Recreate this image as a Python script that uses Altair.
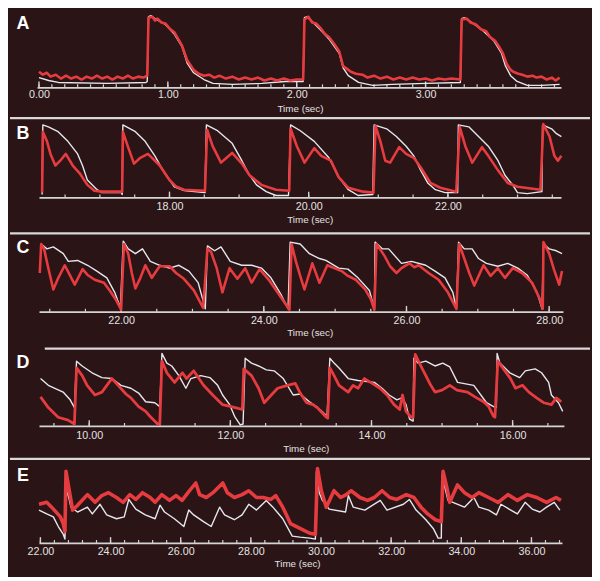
import altair as alt
import pandas as pd

S = 584 / 600  # reference pixel -> chart pixel
BG = "#2b1416"
WHITE = "#e6e7ee"
RED = "#e63b3f"
AXIS = "#d4d4d4"
TXT = "#e2e2e2"
FONT = "Liberation Sans"

# ---------------- data: (time in s, signal in a.u.) ----------------
A_WHITE = [(0.00,10),(0.075,7),(0.15,5),(0.53,4),(0.83,5),(0.84,6),(0.85,73),(0.87,74),(0.90,71),(0.98,65),(1.05,55),(1.11,42),(1.15,25),(1.20,15),(1.28,8),(1.35,4),(1.50,3),(1.73,4),(1.91,6),(2.05,6),(2.06,72),(2.08,73),(2.12,68),(2.18,60),(2.25,50),(2.33,35),(2.36,20),(2.40,12),(2.48,5),(2.59,2),(2.74,3),(3.00,4),(3.27,5),(3.28,71),(3.30,72),(3.38,65),(3.45,58),(3.53,48),(3.59,35),(3.62,22),(3.66,12),(3.71,6),(3.79,2),(3.90,2),(4.04,3)]
A_RED = [(0.00,16),(0.03,13),(0.06,15),(0.09,11),(0.13,13),(0.17,9),(0.21,12),(0.25,9),(0.29,11),(0.33,8),(0.37,11),(0.41,9),(0.45,12),(0.49,9),(0.53,11),(0.57,8),(0.61,11),(0.65,9),(0.69,12),(0.73,9),(0.77,11),(0.81,10),(0.84,12),(0.85,72),(0.88,73),(0.90,69),(0.92,71),(0.95,67),(0.98,66),(1.02,60),(1.05,57),(1.08,50),(1.11,43),(1.15,28),(1.18,22),(1.20,18),(1.24,14),(1.28,12),(1.32,13),(1.36,10),(1.40,12),(1.45,9),(1.50,11),(1.55,8),(1.60,10),(1.65,8),(1.70,10),(1.75,7),(1.80,9),(1.85,7),(1.90,9),(1.95,7),(2.00,8),(2.05,8),(2.06,70),(2.09,73),(2.12,67),(2.15,66),(2.18,62),(2.22,55),(2.25,52),(2.29,45),(2.33,37),(2.36,22),(2.39,19),(2.42,16),(2.46,14),(2.51,13),(2.55,10),(2.60,12),(2.65,9),(2.70,11),(2.75,8),(2.80,10),(2.85,8),(2.90,10),(2.95,8),(3.00,9),(3.05,7),(3.10,9),(3.15,8),(3.20,9),(3.27,8),(3.28,70),(3.32,71),(3.35,67),(3.39,65),(3.43,60),(3.47,58),(3.50,52),(3.54,48),(3.57,42),(3.60,35),(3.63,24),(3.66,18),(3.68,16),(3.72,14),(3.75,13),(3.79,11),(3.83,12),(3.86,10),(3.90,11),(3.94,8),(3.98,10),(4.01,7),(4.04,10)]

B_WHITE = [(16.17,3),(16.18,75),(16.26,73),(16.40,68),(16.54,58),(16.68,45),(16.75,33),(16.82,18),(16.96,8),(17.03,5),(17.31,5),(17.32,3),(17.33,75),(17.51,68),(17.65,58),(17.79,43),(17.93,25),(18.07,11),(18.21,7),(18.51,5),(18.53,75),(18.69,69),(18.90,56),(19.04,38),(19.15,23),(19.25,13),(19.39,6),(19.53,2),(19.71,2),(19.74,75),(19.88,69),(20.08,58),(20.29,41),(20.43,21),(20.57,8),(20.71,2),(20.92,3),(20.94,75),(21.12,71),(21.26,63),(21.40,53),(21.51,43),(21.61,28),(21.71,15),(21.82,8),(21.96,5),(22.14,5),(22.15,75),(22.30,73),(22.44,63),(22.58,53),(22.72,38),(22.82,23),(22.93,13),(23.00,5),(23.14,4),(23.35,6),(23.36,75),(23.49,71),(23.56,66),(23.63,63)]
B_RED = [(16.17,5),(16.18,68),(16.24,58),(16.29,45),(16.36,33),(16.43,38),(16.51,45),(16.61,33),(16.71,25),(16.82,13),(16.92,7),(17.03,6),(17.32,6),(17.33,68),(17.40,53),(17.49,35),(17.58,41),(17.69,45),(17.86,33),(18.00,18),(18.10,11),(18.21,8),(18.51,7),(18.54,70),(18.62,53),(18.74,36),(18.82,41),(18.90,46),(19.04,35),(19.15,23),(19.32,13),(19.53,8),(19.72,7),(19.74,71),(19.83,53),(19.94,36),(20.08,51),(20.18,43),(20.32,38),(20.43,21),(20.57,10),(20.78,6),(20.93,5),(20.96,74),(21.03,58),(21.10,38),(21.17,36),(21.30,52),(21.40,45),(21.51,41),(21.61,31),(21.75,15),(21.89,10),(22.12,6),(22.17,73),(22.25,53),(22.35,36),(22.49,52),(22.58,43),(22.72,28),(22.86,15),(23.00,11),(23.33,8),(23.37,76),(23.46,63),(23.53,43),(23.58,38),(23.63,43)]

C_WHITE = [(20.88,70),(20.96,65),(21.05,67),(21.19,60),(21.26,52),(21.39,53),(21.53,48),(21.66,42),(21.80,35),(21.91,20),(21.99,4),(22.03,73),(22.10,65),(22.20,60),(22.30,65),(22.41,52),(22.54,48),(22.68,45),(22.81,48),(22.95,42),(23.08,30),(23.18,3),(23.21,68),(23.31,63),(23.40,67),(23.53,52),(23.69,48),(23.83,48),(23.97,45),(24.10,35),(24.24,18),(24.34,3),(24.37,72),(24.51,70),(24.64,60),(24.78,55),(24.87,53),(25.05,45),(25.18,44),(25.32,35),(25.48,22),(25.55,3),(25.56,72),(25.66,65),(25.75,65),(25.93,50),(26.07,52),(26.27,48),(26.40,42),(26.54,35),(26.65,20),(26.70,3),(26.73,72),(26.81,65),(26.92,65),(27.01,55),(27.12,50),(27.28,47),(27.42,50),(27.56,45),(27.69,38),(27.83,20),(27.90,3),(27.92,70),(28.00,65),(28.10,63),(28.18,60)]
C_RED = [(20.86,40),(20.88,70),(20.92,65),(20.98,45),(21.05,23),(21.12,35),(21.21,48),(21.28,38),(21.35,28),(21.46,44),(21.53,38),(21.63,33),(21.76,30),(21.84,22),(21.93,12),(22.00,2),(22.04,70),(22.10,60),(22.15,40),(22.20,24),(22.27,35),(22.34,48),(22.43,35),(22.54,47),(22.68,47),(22.77,40),(22.88,34),(23.02,22),(23.15,4),(23.21,65),(23.26,62),(23.34,45),(23.42,20),(23.52,45),(23.63,34),(23.74,45),(23.83,30),(23.94,44),(24.07,33),(24.24,15),(24.36,2),(24.39,70),(24.45,52),(24.51,37),(24.57,23),(24.68,50),(24.78,30),(24.89,48),(25.09,42),(25.18,37),(25.29,33),(25.42,23),(25.50,13),(25.55,2),(25.58,70),(25.69,58),(25.77,47),(25.86,40),(25.93,45),(26.04,50),(26.11,46),(26.17,48),(26.31,40),(26.45,33),(26.58,20),(26.70,3),(26.74,70),(26.81,55),(26.88,40),(26.95,27),(27.03,40),(27.08,48),(27.18,37),(27.28,45),(27.38,35),(27.49,45),(27.62,40),(27.76,30),(27.87,13),(27.91,3),(27.92,72),(28.00,60),(28.07,43),(28.14,28),(28.18,42)]

D_WHITE = [(9.31,49),(9.42,42),(9.63,35),(9.73,27),(9.79,19),(9.82,67),(9.90,62),(10.04,55),(10.18,50),(10.32,49),(10.45,42),(10.59,39),(10.70,34),(10.80,25),(10.93,24),(11.00,20),(11.03,75),(11.10,65),(11.17,62),(11.27,52),(11.37,39),(11.44,49),(11.58,52),(11.71,50),(11.82,42),(11.89,32),(11.99,22),(12.06,10),(12.14,1),(12.18,2),(12.21,70),(12.30,65),(12.40,62),(12.51,58),(12.62,57),(12.75,49),(12.89,32),(12.99,33),(13.12,25),(13.22,20),(13.30,15),(13.37,10),(13.41,70),(13.47,65),(13.54,60),(13.67,49),(13.81,47),(14.04,45),(14.15,39),(14.25,32),(14.36,27),(14.43,29),(14.49,22),(14.54,7),(14.59,5),(14.60,70),(14.66,65),(14.77,67),(14.90,62),(15.01,65),(15.11,61),(15.22,45),(15.45,42),(15.63,24),(15.73,20),(15.77,19),(15.78,75),(15.82,65),(15.96,55),(16.10,50),(16.18,57),(16.32,59),(16.41,55),(16.51,45),(16.55,32),(16.65,24),(16.71,15)]
D_RED = [(9.31,30),(9.42,19),(9.56,9),(9.70,6),(9.79,2),(9.82,60),(9.90,52),(9.97,42),(10.08,32),(10.18,35),(10.32,49),(10.41,42),(10.52,33),(10.59,29),(10.70,20),(10.80,15),(10.86,10),(10.97,2),(11.00,2),(11.03,67),(11.10,55),(11.21,45),(11.32,55),(11.38,49),(11.48,57),(11.62,42),(11.75,32),(11.89,22),(12.07,19),(12.17,17),(12.19,59),(12.30,52),(12.40,39),(12.48,24),(12.58,32),(12.67,39),(12.81,42),(12.92,44),(12.99,34),(13.08,24),(13.17,22),(13.23,19),(13.36,9),(13.38,8),(13.41,60),(13.47,52),(13.54,42),(13.67,35),(13.74,42),(13.81,39),(13.90,49),(14.01,44),(14.12,39),(14.22,32),(14.32,22),(14.40,17),(14.44,32),(14.49,15),(14.56,9),(14.59,9),(14.62,74),(14.70,62),(14.77,52),(14.84,42),(14.90,35),(15.00,37),(15.11,42),(15.21,37),(15.36,35),(15.49,29),(15.59,25),(15.66,20),(15.73,10),(15.75,9),(15.79,67),(15.89,57),(15.97,49),(16.04,39),(16.14,42),(16.23,35),(16.34,29),(16.44,24),(16.55,22),(16.62,29),(16.69,25)]

E_WHITE = [(21.96,34),(22.18,30),(22.37,27),(22.51,17),(22.65,9),(22.70,4),(22.73,55),(22.81,47),(22.87,37),(23.06,32),(23.34,37),(23.48,30),(23.70,40),(23.89,29),(24.17,25),(24.39,27),(24.52,45),(24.72,35),(24.99,29),(25.27,25),(25.41,39),(25.54,32),(25.82,25),(26.09,17),(26.23,34),(26.37,29),(26.65,22),(26.87,17),(27.11,37),(27.25,29),(27.53,24),(27.75,29),(27.94,40),(28.16,34),(28.44,44),(28.63,37),(28.91,25),(29.18,7),(29.40,6),(29.68,5),(29.84,4),(29.87,74),(29.95,52),(30.04,44),(30.23,35),(30.70,32),(30.78,49),(30.92,37),(31.25,34),(31.69,44),(31.88,34),(32.35,40),(32.52,45),(32.71,34),(32.99,24),(33.20,15),(33.34,5),(33.43,5),(33.45,70),(33.62,44),(34.09,37),(34.36,47),(34.50,37),(34.78,34),(35.00,29),(35.13,40),(35.41,34),(35.60,30),(35.82,42),(36.02,35),(36.24,32),(36.43,37),(36.65,42),(36.81,34)]
E_RED = [(21.96,40),(22.18,42),(22.32,37),(22.57,27),(22.65,20),(22.70,12),(22.73,74),(22.81,57),(22.92,34),(23.06,39),(23.34,50),(23.56,42),(23.75,49),(23.94,52),(24.17,47),(24.36,42),(24.55,50),(24.72,45),(24.91,52),(25.13,47),(25.27,42),(25.46,50),(25.68,44),(25.87,49),(26.04,44),(26.23,53),(26.43,62),(26.54,50),(26.73,47),(26.92,52),(27.20,62),(27.33,52),(27.53,47),(27.75,50),(27.94,54),(28.16,47),(28.35,47),(28.57,45),(28.71,49),(28.91,37),(29.13,20),(29.40,15),(29.68,10),(29.84,9),(29.90,77),(30.01,54),(30.15,37),(30.37,54),(30.56,47),(30.72,50),(30.86,54),(31.11,47),(31.33,44),(31.52,47),(31.74,54),(31.96,47),(32.16,45),(32.43,50),(32.65,47),(32.85,37),(33.04,30),(33.26,24),(33.43,22),(33.48,74),(33.59,57),(33.67,42),(33.89,60),(34.09,52),(34.31,47),(34.50,52),(34.78,47),(35.05,42),(35.33,50),(35.60,44),(35.88,50),(36.15,47),(36.43,42),(36.70,47),(36.84,44)]

A_LABELS = [0, 1, 2, 3]
B_LABELS = [18, 20, 22]
C_LABELS = [22, 24, 26, 28]
D_LABELS = [10, 12, 14, 16]
E_LABELS = [22, 24, 26, 28, 30, 32, 34, 36]

A_MINOR = [round(i * 0.1, 2) for i in range(0, 41)]
B_MINOR = [16.5 + i * 0.5 for i in range(0, 15)]
C_MINOR = [21.0 + i * 0.5 for i in range(0, 15)]
D_MINOR = [9.5 + i * 0.5 for i in range(0, 15)]
E_MINOR = [round(22.0 + i * 0.4, 2) for i in range(0, 38)]


def frame(pairs):
    return pd.DataFrame({"t": [p[0] for p in pairs],
                         "v": [p[1] for p in pairs],
                         "i": list(range(len(pairs)))})


def panel(letter, white, red, domain, px, height, top, axis_ref, labels, minor,
          title_cx, title_dy, label_dy, letter_ref, sep_x0, red_width):
    axis_y = (axis_ref - top) * S
    xsc = alt.Scale(domain=list(domain), range=[px[0] * S, px[1] * S], nice=False, zero=False)
    ysc = alt.Scale(domain=[0, axis_ref - top], range=[axis_y, 0], nice=False, zero=False)
    x = alt.X("t:Q", scale=xsc,
              axis=alt.Axis(values=labels, format=".2f", title="Time (sec)", ticks=False,
                            grid=False, domain=True, domainColor=AXIS, domainWidth=1.8,
                            labelColor=TXT, labelFont=FONT, labelFontSize=10.8,
                            labelPadding=label_dy * S - 1, labelBaseline="middle",
                            labelFlush=False, labelOverlap=False,
                            titleColor=TXT, titleFont=FONT,
                            titleFontSize=9.9, titleFontWeight="normal",
                            titleX=title_cx * S, titleY=title_dy * S + 1,
                            titleBaseline="middle", offset=axis_y - height))
    y = alt.Y("v:Q", scale=ysc, axis=None)
    tmin = alt.Chart(pd.DataFrame({"t": minor})).mark_rule(color=AXIS, strokeWidth=1.2).encode(
        x=x, y=alt.value(axis_y), y2=alt.value(axis_y - 3 * S))
    tmaj = alt.Chart(pd.DataFrame({"t": labels})).mark_rule(color=AXIS, strokeWidth=1.4).encode(
        x=x, y=alt.value(axis_y), y2=alt.value(axis_y - 6 * S))
    w = alt.Chart(frame(white)).mark_line(color=WHITE, strokeWidth=1.4, strokeJoin="round").encode(
        x=x, y=y, order="i:Q")
    r = alt.Chart(frame(red)).mark_line(color=RED, strokeWidth=red_width, strokeJoin="round").encode(
        x=x, y=y, order="i:Q")
    lab = alt.Chart(pd.DataFrame({"k": [letter]})).mark_text(
        font=FONT, fontSize=18, fontWeight="bold", color="white", align="center",
        baseline="middle").encode(x=alt.value(13.5 * S), y=alt.value((letter_ref - top) * S), text="k:N")
    layers = [tmin, tmaj, w, r, lab]
    if sep_x0 is not None:
        sep = alt.Chart(pd.DataFrame({"k": [0]})).mark_rule(color="#d8d8d8", strokeWidth=2.2).encode(
            x=alt.value(sep_x0 * S), x2=alt.value(600 * S), y=alt.value(1))
        layers.append(sep)
    return alt.layer(*layers).properties(width=584, height=height)


pA = panel("A", A_WHITE, A_RED, (-0.015, 4.051), (28, 570), 107, 0, 80, A_LABELS, A_MINOR, 300, 20.5, 9, 14.5, None, 2.6)
pB = panel("B", B_WHITE, B_RED, (16.125, 23.625), (30, 570), 115, 110, 193, B_LABELS, B_MINOR, 310, 22, 10, 127, 0, 2.6)
pC = panel("C", C_WHITE, C_RED, (20.849, 28.193), (30, 572), 115, 228, 310, C_LABELS, C_MINOR, 310, 20.5, 10.5, 244, 0, 2.6)
pD = panel("D", D_WHITE, D_RED, (9.288, 16.727), (30, 573), 110, 346, 427, D_LABELS, D_MINOR, 306, 22, 10.5, 362, 36, 2.8)
pE = panel("E", E_WHITE, E_RED, (21.96, 36.87), (30, 571), 118, 459, 547, E_LABELS, E_MINOR, 297, 20.5, 9.5, 478, 0, 3.6)

chart = alt.vconcat(pA, pB, pC, pD, pE, spacing=0).properties(
    padding=0, background=BG
).configure_view(stroke=None).configure_concat(spacing=0)

chart.save("out.html", embed_options={"renderer": "svg", "actions": False})
